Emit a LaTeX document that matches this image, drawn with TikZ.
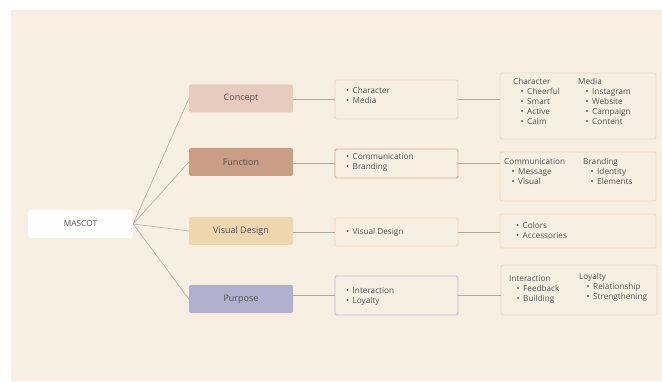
\documentclass[tikz,border=0pt]{standalone}
\usepackage{fontspec}
\setmainfont{Open Sans}
\usepackage{xcolor}

\definecolor{paper}{HTML}{F7EFE1}
\definecolor{ink}{HTML}{505050}
\definecolor{wirec}{HTML}{B3A89C}
\definecolor{conceptc}{HTML}{E8CBBF}
\definecolor{functionc}{HTML}{C99E85}
\definecolor{visualc}{HTML}{F0D6AF}
\definecolor{purposec}{HTML}{B2B0CF}
\definecolor{conceptl}{HTML}{EDD3C8}
\definecolor{functionl}{HTML}{D6A78D}
\definecolor{visuall}{HTML}{F3DAB6}
\definecolor{purposel}{HTML}{BDBBDF}
\definecolor{yellowl}{HTML}{F2D6AE}
\definecolor{pinkl}{HTML}{EAD0C5}

\newcommand{\itm}[1]{\makebox[6.5pt][l]{\textbullet}#1}
\newcommand{\subitm}[1]{\hspace*{7.5pt}\itm{#1}}

\begin{document}
\begin{tikzpicture}[x=1pt, y=-1pt,
  every node/.style={text=ink},
  cat/.style={rounded corners=2pt, minimum width=104pt, minimum height=28pt,
    font=\fontsize{9}{11}\selectfont},
  panel/.style={draw, fill=paper, line width=0.9pt, rounded corners=1.5pt},
  list/.style={anchor=north west, inner sep=0pt, align=left,
    font=\fontsize{8.2}{10}\selectfont},
  wire/.style={draw=wirec, line width=0.6pt}]

  \useasboundingbox (0,0) rectangle (662,382);
  \fill[paper] (11,10) rectangle (662,381);

  % root
  \node[cat, fill=white, rounded corners=3pt, minimum width=105pt,
    font=\fontsize{8.3}{10}\selectfont] (mascot) at (80.5,224) {MASCOT};

  % categories
  \node[cat, fill=conceptc] (concept) at (241,98.5) {Concept};
  \node[cat, fill=functionc] (function) at (241,162) {Function};
  \node[cat, fill=visualc] (visual) at (241,231) {Visual Design};
  \node[cat, fill=purposec] (purpose) at (241,299) {Purpose};

  % middle panels
  \node[panel, draw=conceptl, minimum width=123pt, minimum height=39pt] (mid-concept) at (396.5,99.5) {};
  \node[panel, draw=functionl, minimum width=123pt, minimum height=29pt] (mid-function) at (396.5,163.5) {};
  \node[panel, draw=visuall, minimum width=123pt, minimum height=28pt] (mid-visual) at (396.5,232) {};
  \node[panel, draw=purposel, minimum width=123pt, minimum height=39pt] (mid-purpose) at (396.5,295.5) {};

  \node[list] (txt-concept) at (346,87) {\itm{Character}\\\itm{Media}};
  \node[list] (txt-function) at (346,153) {\itm{Communication}\\\itm{Branding}};
  \node[list] (txt-visual) at (346,228) {\itm{Visual Design}};
  \node[list] (txt-purpose) at (346,287) {\itm{Interaction}\\\itm{Loyalty}};

  % right panels
  \node[panel, draw=conceptl, minimum width=156pt, minimum height=66pt] (right-concept) at (578,106) {};
  \node[panel, draw=yellowl, minimum width=156pt, minimum height=49pt] (right-function) at (578,176.5) {};
  \node[panel, draw=visuall, minimum width=156pt, minimum height=34pt] (right-visual) at (578,231) {};
  \node[panel, draw=pinkl, minimum width=156pt, minimum height=50pt] (right-purpose) at (579,290) {};

  \node[list] (char) at (513,78) {Character\\\subitm{Cheerful}\\\subitm{Smart}\\\subitm{Active}\\\subitm{Calm}};
  \node[list] (media) at (578,78) {Media\\\subitm{Instagram}\\\subitm{Website}\\\subitm{Campaign}\\\subitm{Content}};
  \node[list] (comm) at (504,158) {Communication\\\subitm{Message}\\\subitm{Visual}};
  \node[list] (brand) at (583,158) {Branding\\\subitm{Identity}\\\subitm{Elements}};
  \node[list] (look) at (516,222) {\itm{Colors}\\\itm{Accessories}};
  \node[list] (inter) at (509,275) {Interaction\\\subitm{Feedback}\\\subitm{Building}};
  \node[list] (loyal) at (579,273) {Loyalty\\\subitm{Relationship}\\\subitm{Strengthening}};

  % connectors
  \foreach \c in {concept,function,visual,purpose} {
    \draw[wire] (mascot.east) -- (\c.west);
    \draw[wire] (\c.east |- mid-\c.west) -- (mid-\c.west);
    \draw[wire] (mid-\c.east) -- (mid-\c.east -| right-\c.west);
  }

\end{tikzpicture}
\end{document}
